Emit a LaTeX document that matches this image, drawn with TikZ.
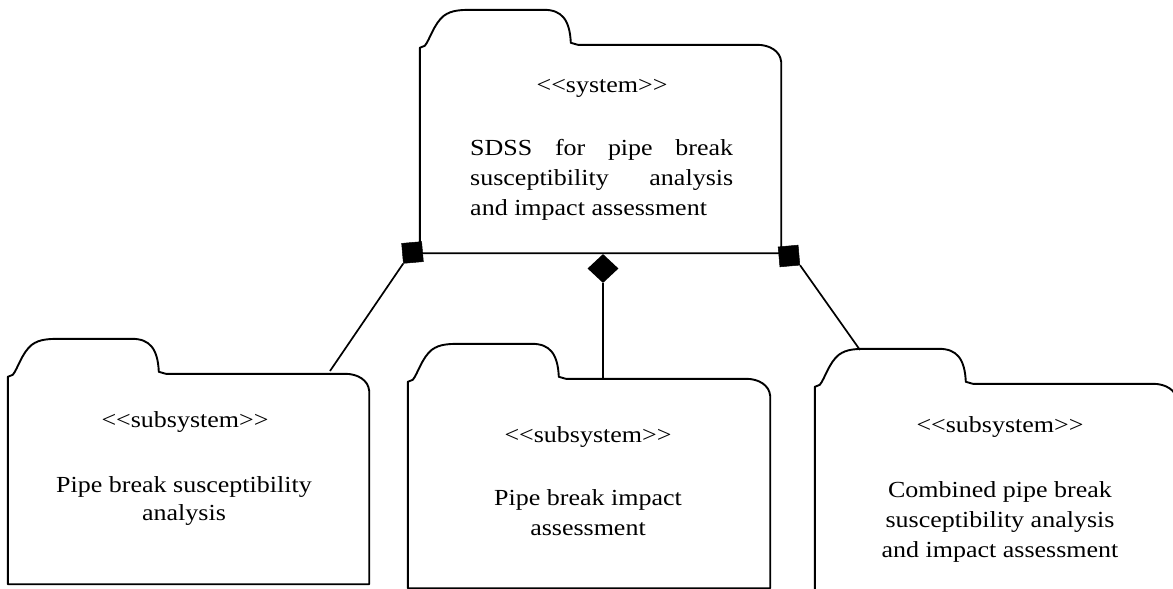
\documentclass[tikz,border=0pt]{standalone}
\usepackage{fontspec}
\setmainfont{Liberation Serif}
\usetikzlibrary{calc,shapes.geometric}

\tikzset{
  folderline/.style={line width=1.9pt, line join=round},
  folderbody/.style={draw=none, rectangle, inner sep=0pt},
  link/.style={line width=1.7pt},
  sqmark/.style={rectangle, fill=black, draw=black, line width=0.5pt, minimum size=20pt, inner sep=0pt, rotate=5},
  dmark/.style={diamond, fill=black, minimum width=31pt, minimum height=29pt, inner sep=0pt},
  lbl/.style={inner sep=0pt, anchor=base, xscale=1.13, font=\fontsize{23}{28}\selectfont},
  lblw/.style={lbl, anchor=base west},
}

% folder outline (tab on the left, cut corner on the right) around a body node
\newcommand\folderoutline[1]{%
  \draw[folderline] (#1.south west) -- (#1.north west)
    -- ($(#1.north west)+(5,-2)$)
    .. controls ($(#1.north west)+(10,-8)$) and ($(#1.north west)+(14,-24)$) .. ($(#1.north west)+(24,-32)$)
    .. controls ($(#1.north west)+(32,-38)$) and ($(#1.north west)+(42,-38)$) .. ($(#1.north west)+(55,-38)$)
    -- ($(#1.north west)+(124,-38)$)
    .. controls ($(#1.north west)+(142,-38)$) and ($(#1.north west)+(150,-28)$) .. ($(#1.north west)+(151,-5)$)
    -- ($(#1.north west)+(158,-3)$)
    -- ($(#1.north east)+(-24,-3)$)
    .. controls ($(#1.north east)+(-12,-3)$) and ($(#1.north east)+(-1,3)$) .. ($(#1.north east)+(0,14)$)
    -- (#1.south east) -- cycle;}

\newcommand\stereo[1]{<\kern0pt<#1>\kern0pt>}

\begin{document}
\begin{tikzpicture}[x=1pt, y=-1pt]
  \useasboundingbox (0,0) rectangle (1173,589);

  % package bodies
  \node[folderbody, minimum width=361pt, minimum height=205pt] (sys) at (600.5,150.5) {};
  \node[folderbody, minimum width=361pt, minimum height=207pt] (susc) at (188.5,480.5) {};
  \node[folderbody, minimum width=362pt, minimum height=206pt] (imp) at (589,485) {};
  \node[folderbody, minimum width=362pt, minimum height=213pt] (comb) at (996,493.5) {};

  \folderoutline{sys}
  \folderoutline{susc}
  \folderoutline{imp}
  \folderoutline{comb}

  % system package text
  \node[lbl] (sysst) at (602,92) {\stereo{system}};
  \node[lblw] (sys1) at (470,155) {\makebox[232.7pt][s]{SDSS for pipe break}};
  \node[lblw] (sys2) at (470,185) {\makebox[232.7pt][s]{susceptibility analysis}};
  \node[lblw] (sys3) at (470,215) {and impact assessment};

  % subsystem texts
  \node[lbl] (suscst) at (185,427) {\stereo{subsystem}};
  \node[lbl] (susc1) at (184,492) {Pipe break susceptibility};
  \node[lbl] (susc2) at (184,520) {analysis};

  \node[lbl] (impst) at (588,442) {\stereo{subsystem}};
  \node[lbl] (imp1) at (588,505) {Pipe break impact};
  \node[lbl] (imp2) at (588,535) {assessment};

  \node[lbl] (combst) at (1000,432) {\stereo{subsystem}};
  \node[lbl] (comb1) at (1000,497) {Combined pipe break};
  \node[lbl] (comb2) at (1000,527) {susceptibility analysis};
  \node[lbl] (comb3) at (1000,557) {and impact assessment};

  % composition markers on the system package
  \node[sqmark] (lsq) at (412.5,252.5) {};
  \node[sqmark] (rsq) at (789,256) {};
  \node[dmark] (dia) at (603,268.5) {};

  % connector ends on the subsystem packages
  \coordinate (lend) at (330,371);
  \coordinate (mend) at (603,379);
  \coordinate (rend) at (860,350);

  \draw[link] (lsq.south west) -- (lend);
  \draw[link] (dia.south) -- (mend);
  \draw[link] (rsq.south east) -- (rend);
\end{tikzpicture}
\end{document}
